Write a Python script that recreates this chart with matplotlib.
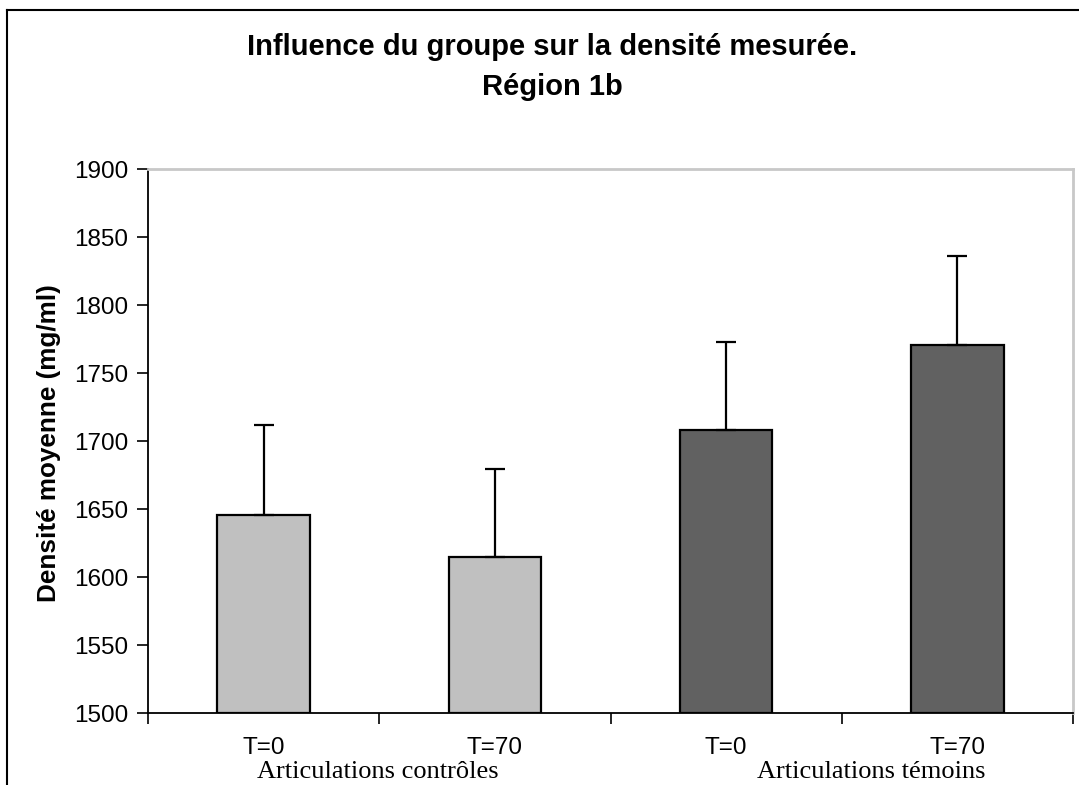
import matplotlib
matplotlib.use("Agg")
import matplotlib.pyplot as plt
from matplotlib.lines import Line2D

# ---- data ----
tick_labels = ["T=0", "T=70", "T=0", "T=70"]
group_labels = ["Articulations contrôles", "Articulations témoins"]
means = [1646, 1615, 1708, 1771]
errors = [66, 65, 65, 65]
bar_colors = ["#C0C0C0", "#C0C0C0", "#616161", "#616161"]
y_ticks = [1500, 1550, 1600, 1650, 1700, 1750, 1800, 1850, 1900]
title_lines = ["Influence du groupe sur la densité mesurée.", "Région 1b"]
y_label = "Densité moyenne (mg/ml)"

sans = ["Liberation Sans", "DejaVu Sans"]
serif = ["Liberation Serif", "DejaVu Serif"]

fig = plt.figure(figsize=(10.79, 7.85), dpi=100)
fig.patch.set_facecolor("white")

ax = fig.add_axes([148 / 1079, 1 - 713.3 / 785, 925 / 1079, 544 / 785])

x = list(range(len(means)))
bottom = y_ticks[0]
heights = [m - bottom for m in means]
ax.bar(x, heights, bottom=bottom, width=0.40, color=bar_colors,
       edgecolor="black", linewidth=1.6, zorder=2)
ax.errorbar(x, means, yerr=[[0] * len(errors), errors], fmt="none",
            ecolor="black", elinewidth=1.6, capsize=7, capthick=1.6, zorder=3)

ax.set_xlim(-0.5, len(means) - 0.5)
ax.set_ylim(y_ticks[0], y_ticks[-1])
ax.set_yticks(y_ticks)
ax.set_yticklabels([str(v) for v in y_ticks], fontfamily=sans, fontsize=17.5)
ax.set_xticks([i - 0.5 for i in range(len(means) + 1)])
ax.set_xticklabels([])
ax.tick_params(axis="y", direction="out", length=8, width=1.2, pad=6)
ax.tick_params(axis="x", direction="out", length=8, width=1.2)

for side in ["left", "bottom"]:
    ax.spines[side].set_color("black")
    ax.spines[side].set_linewidth(1.3)
for side in ["top", "right"]:
    ax.spines[side].set_color("#C8C8C8")
    ax.spines[side].set_linewidth(2.0)

# category tick labels
for i, lab in enumerate(tick_labels):
    ax.text(i, -0.064, lab, transform=ax.get_xaxis_transform(),
            ha="center", va="center", fontsize=17.5, fontfamily=sans)

# group labels
group_x = [0.495, 2.626]
for gx, lab in zip(group_x, group_labels):
    ax.text(gx, -0.108, lab, transform=ax.get_xaxis_transform(),
            ha="center", va="center", fontsize=19, fontfamily=serif)

# y label
fig.text(49 / 1079, 1 - 443 / 785, y_label, rotation=90, ha="center",
         va="center", fontsize=18.8, fontweight="bold", fontfamily=sans)

# title
fig.text(552 / 1079, 1 - 47 / 785, title_lines[0], ha="center", va="center",
         fontsize=21, fontweight="bold", fontfamily=sans)
fig.text(552 / 1079, 1 - 87 / 785, title_lines[1], ha="center", va="center",
         fontsize=21, fontweight="bold", fontfamily=sans)

# outer chart border (left and top)
fig.add_artist(Line2D([7 / 1079, 7 / 1079], [0, 1 - 10 / 785],
                      transform=fig.transFigure, color="black", linewidth=1.5))
fig.add_artist(Line2D([7 / 1079, 1], [1 - 10 / 785, 1 - 10 / 785],
                      transform=fig.transFigure, color="black", linewidth=1.5))

fig.savefig("out.png", dpi=100, facecolor="white")
